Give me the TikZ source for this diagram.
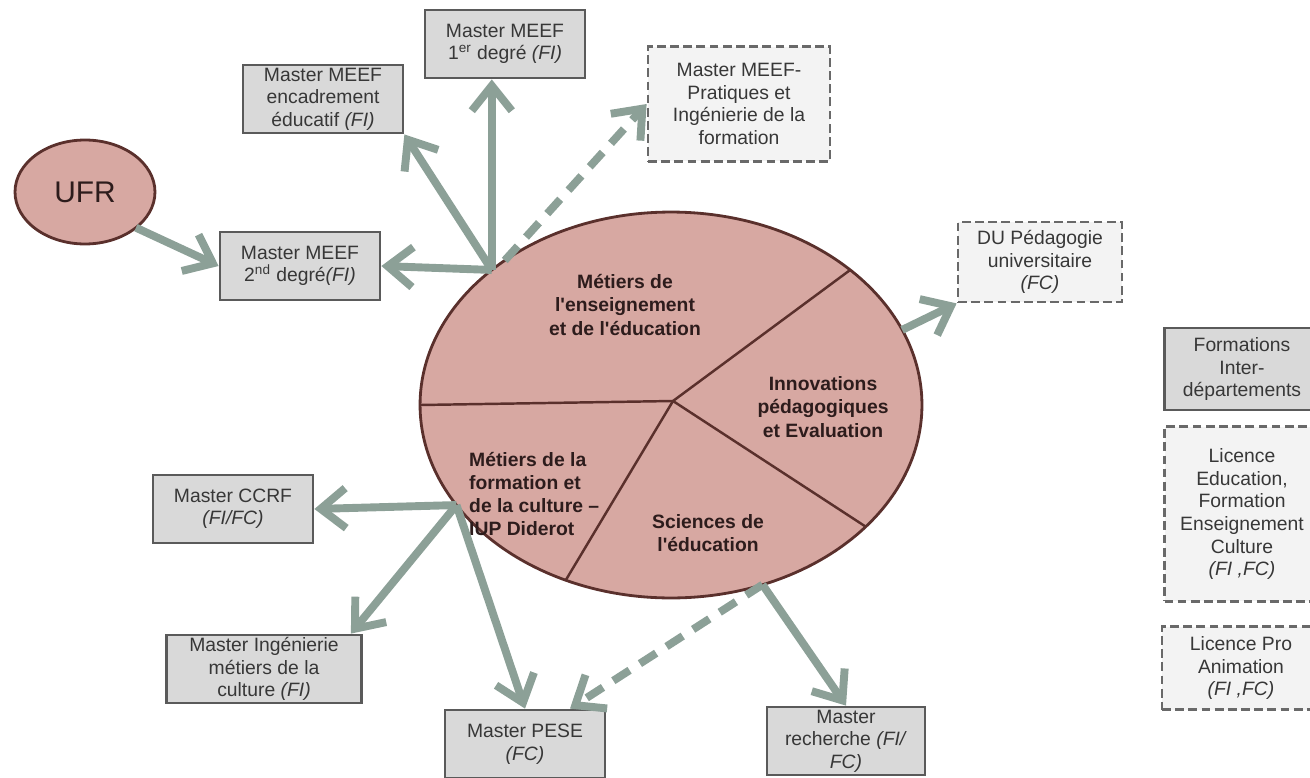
\documentclass[tikz,border=0pt]{standalone}
\usepackage{fontspec}
\setmainfont{Liberation Sans}
\usetikzlibrary{shapes.geometric,arrows.meta}

\definecolor{boxfill}{RGB}{217,217,217}
\definecolor{boxline}{RGB}{90,90,90}
\definecolor{dashfill}{RGB}{243,243,243}
\definecolor{dashline}{RGB}{105,105,105}
\definecolor{linkgrey}{RGB}{140,160,151}
\definecolor{rosefill}{RGB}{215,168,162}
\definecolor{roseline}{RGB}{90,48,44}
\definecolor{boxtext}{RGB}{55,55,55}
\definecolor{sectext}{RGB}{45,28,28}

\tikzset{
  box/.style={draw=boxline, fill=boxfill, line width=1.6pt, text=boxtext,
    font=\fontsize{11}{12.8}\selectfont, align=center, inner sep=0pt,
    minimum width=3.2cm, minimum height=1.36cm},
  dashbox/.style={box, draw=dashline, fill=dashfill, dash pattern=on 5pt off 2.5pt},
  sector/.style={text=sectext, font=\bfseries\fontsize{11}{13.2}\selectfont, align=center},
  link/.style={draw=linkgrey, line width=4.5pt, -{Straight Barb[length=5mm,width=8mm]}},
  dlink/.style={link, dash pattern=on 11pt off 7pt},
  divider/.style={draw=roseline, line width=1.4pt},
}

\begin{document}
\begin{tikzpicture}[x=0.02cm, y=-0.02cm]

    % Page size
    \useasboundingbox (0,0) rectangle (1310,777);
    \clip (0,0) rectangle (1310,777);

    % Central ellipse and its four fields
    \node[ellipse, draw=roseline, fill=rosefill, line width=1.6pt, inner sep=0pt, outer sep=0pt,
          minimum width=10.04cm, minimum height=7.72cm] (main) at (671,405) {};
    \coordinate (ctr) at (673,401);
    \draw[divider] (ctr) -- (main.180);
    \draw[divider] (ctr) -- (main.37.5);
    \draw[divider] (ctr) -- (main.328);
    \draw[divider] (ctr) -- (main.239);

    \node[sector] (ens) at (625,305) {Métiers de\\l\textquotesingle enseignement\\et de l\textquotesingle éducation};
    \node[sector] (innov) at (823,407) {Innovations\\pédagogiques\\et Evaluation};
    \node[sector, align=left, anchor=west] (diderot) at (463,494) {Métiers de la\\formation et\\de la culture --\\IUP Diderot};
    \node[sector] (scied) at (708,533) {Sciences de\\l\textquotesingle éducation};

    % UFR
    \node[ellipse, draw=roseline, fill=rosefill, line width=1.6pt, inner sep=0pt, outer sep=0pt,
          minimum width=2.8cm, minimum height=2.08cm, text=sectext,
          font=\fontsize{17}{20}\selectfont] (ufr) at (85,192) {UFR};

    % Masters around the top
    \node[box] (deg2) at (300,266) {Master MEEF\\2\textsuperscript{nd} degré\textit{(FI)}};
    \node[box] (enc) at (323,99) {Master MEEF\\encadrement\\éducatif \textit{(FI)}};
    \node[box] (deg1) at (505,44) {Master MEEF\\1\textsuperscript{er} degré \textit{(FI)}};
    \node[dashbox, minimum width=3.64cm, minimum height=2.3cm] (prat) at (739,104)
        {Master MEEF-\\Pratiques et\\Ingénierie de la\\formation};
    \node[dashbox, minimum width=3.28cm, minimum height=1.6cm] (du) at (1040,262)
        {DU Pédagogie\\universitaire\\\textit{(FC)}};

    % Masters around the bottom
    \node[box] (ccrf) at (233,509) {Master CCRF\\\textit{(FI/FC)}};
    \node[box, minimum width=3.9cm] (ing) at (264,669) {Master Ingénierie\\métiers de la\\culture \textit{(FI)}};
    \node[box] (pese) at (525,744) {Master PESE\\\textit{(FC)}};
    \node[box, minimum width=3.16cm] (rech) at (846,741) {Master\\recherche \textit{(FI/}\\\textit{FC)}};

    % Right column
    \node[box, minimum width=3.1cm, minimum height=1.64cm] (inter) at (1242,369)
        {Formations\\Inter-\\départements};
    \node[dashbox, minimum width=3.1cm, minimum height=3.5cm, font=\fontsize{11}{12.9}\selectfont] (lic) at (1242,514)
        {Licence\\Education,\\Formation\\Enseignement\\Culture\\\textit{(FI ,FC)}};
    \node[dashbox, minimum width=3.16cm, minimum height=1.66cm] (licpro) at (1241,668)
        {Licence Pro\\Animation\\\textit{(FI ,FC)}};

    % Arrows
    \coordinate (hubtop) at (main.143);
    \coordinate (hubleft) at (main.205);
    \coordinate (hubbot) at (main.297);

    \draw[link] (ufr.-35) -- (deg2.west);
    \draw[link] (hubtop) -- (deg2.east);
    \draw[link] (hubtop) -- (enc.south east);
    \draw[link] (hubtop) -- (hubtop |- deg1.south);
    \draw[dlink] (main.139) -- (prat.west);
    \draw[link] (main.18) -- (du.south west);
    \draw[link] (hubleft) -- (ccrf.east);
    \draw[link] (hubleft) -- ([xshift=-0.24cm]ing.north east);
    \draw[link] (hubleft) -- (pese.north);
    \draw[dlink] (hubbot) -- ([xshift=0.9cm]pese.north);
    \draw[link] (hubbot) -- (rech.north);

\end{tikzpicture}
\end{document}
